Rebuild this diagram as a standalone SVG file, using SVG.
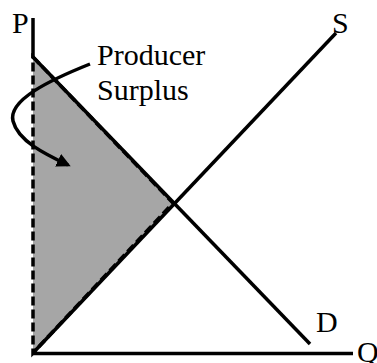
<svg xmlns="http://www.w3.org/2000/svg" width="377" height="363" viewBox="0 0 377 363">
<style>
.ln{stroke:#000;stroke-width:3.5;fill:none}
.lbl{font-family:"Liberation Serif","Times New Roman",serif;font-size:30px;fill:#000}
</style>
<defs>
<marker id="ah" markerWidth="16" markerHeight="16" refX="11" refY="7" orient="auto" markerUnits="userSpaceOnUse">
<path d="M0,0 L14,7 L0,14 Z" fill="#000"/>
</marker>
</defs>
<rect width="377" height="363" fill="#fff"/>
<g id="surplus">
<polygon points="33,57 173,203 33,353" fill="#a6a6a6" stroke="#000" stroke-width="3.5" stroke-dasharray="9,4"/>
</g>
<g id="connectors">
<line class="ln" x1="33" y1="18" x2="33" y2="58"/>
<line class="ln" x1="32" y1="353.5" x2="353" y2="353.5"/>
<line class="ln" x1="33" y1="57" x2="310" y2="344"/>
<line class="ln" x1="33" y1="353" x2="336" y2="33"/>
<path class="ln" d="M90,64 C50,80 8,100 13,121 C18,141 45,154 68,165" marker-end="url(#ah)"/>
</g>
<g id="labels">
<text class="lbl" x="12" y="33">P</text>
<text class="lbl" x="332" y="33">S</text>
<text class="lbl" x="316" y="332">D</text>
<text class="lbl" x="357" y="362">Q</text>
<text class="lbl" x="97" y="65">Producer</text>
<text class="lbl" x="97" y="100">Surplus</text>
</g>
</svg>
